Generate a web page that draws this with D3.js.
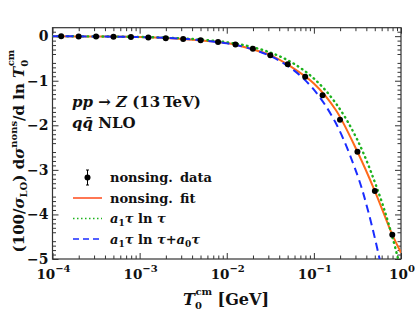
<!DOCTYPE html>
<html>
<head>
<meta charset="utf-8">
<script src="https://cdn.jsdelivr.net/npm/d3@7"></script>
<style>
  body { margin: 0; background: #fff; }
  svg { display: block; }
  text { font-family: "DejaVu Serif", serif; font-weight: bold; fill: #111; }
</style>
</head>
<body>
<div id="chart"></div>
<script>
// nonsingular data, log10 of T0cm and the value
const dataLog = [-3.9, -3.7, -3.5, -3.3, -3.1, -2.9, -2.7, -2.5, -2.3, -2.1,
                 -1.9, -1.7, -1.5, -1.3, -1.1, -0.9, -0.7, -0.5, -0.3, -0.1]
const dataVal = [-0.004, -0.006, -0.009, -0.013, -0.02, -0.03, -0.045, -0.066, -0.094, -0.13,
                 -0.186, -0.285, -0.426, -0.628, -0.912, -1.323, -1.876, -2.594, -3.475, -4.455]
const dataErr = [0.005, 0.005, 0.005, 0.005, 0.005, 0.005, 0.005, 0.005, 0.005, 0.005,
                 0.005, 0.005, 0.005, 0.005, 0.006, 0.006, 0.008, 0.01, 0.012, 0.015]

// fit curve
const fitLog = [-4, -3.5, -3, -2.5, -2, -1.75, -1.5, -1.25, -1, -0.75, -0.5, -0.3, -0.1, 0]
const fitVal = [-0.002, -0.008, -0.018, -0.066, -0.155, -0.27, -0.426, -0.7, -1.06, -1.65, -2.594, -3.475, -4.455, -4.86]

// a1 tau ln tau
const greenLog = [-4, -3.5, -3, -2.5, -2, -1.75, -1.5, -1.25, -1, -0.75, -0.5, -0.25, -0.1, 0]
const greenVal = [-0.002, -0.006, -0.018, -0.05, -0.137, -0.225, -0.367, -0.594, -0.95, -1.5, -2.33, -3.55, -4.5, -5.26]

// a1 tau ln tau + a0 tau
const blueLog = [-4, -3.5, -3, -2.5, -2, -1.75, -1.5, -1.25, -1, -0.75, -0.5, -0.375, -0.25, -0.2]
const blueVal = [-0.003, -0.007, -0.021, -0.058, -0.162, -0.269, -0.446, -0.735, -1.2, -1.945, -3.12, -3.94, -4.96, -5.43]

const xMajor = [-4, -3, -2, -1, 0]
const yMajor = [0, -1, -2, -3, -4, -5]

const width = 415
const height = 316
const pLeft = 52.5, pRight = 401, pTop = 27.7, pBottom = 259

const svg = d3.select("#chart").append("svg")
    .attr("width", width)
    .attr("height", height)

const x = d3.scaleLog().domain([1e-4, 1]).range([pLeft, pRight])
const y = d3.scaleLinear().domain([-5, 0.19]).range([pBottom, pTop])

const xMinor = []
xMajor.slice(0, -1).forEach(e => { for (let k = 2; k <= 9; k++) xMinor.push(k * Math.pow(10, e)) })
const xMajorV = xMajor.map(e => Math.pow(10, e))
const yMinor = d3.range(-49, 2).filter(v => v % 5 !== 0).map(v => v / 10).filter(v => v < 0.19)

function axisSet(axisFn, scale, values, size) {
    return axisFn(scale).tickValues(values).tickSize(-size).tickFormat("")
}
const axes = svg.append("g").attr("class", "axes")
function drawAxis(axisFn, tr, scale) {
    const isX = scale === x
    const maj = isX ? xMajorV : yMajor
    const min = isX ? xMinor : yMinor
    const g = axes.append("g").attr("transform", tr)
    g.append("g").call(axisSet(axisFn, scale, maj, 6))
    g.append("g").call(axisSet(axisFn, scale, min, 3.5))
    g.selectAll(".domain").remove()
    g.selectAll("line").attr("stroke", "#333").attr("stroke-width", 1)
}
drawAxis(d3.axisBottom, `translate(0,${pBottom})`, x)
drawAxis(d3.axisTop, `translate(0,${pTop})`, x)
drawAxis(d3.axisLeft, `translate(${pLeft},0)`, y)
drawAxis(d3.axisRight, `translate(${pRight},0)`, y)

svg.append("rect")
    .attr("x", pLeft).attr("y", pTop)
    .attr("width", pRight - pLeft).attr("height", pBottom - pTop)
    .attr("fill", "none").attr("stroke", "#333").attr("stroke-width", 1.2)

// tick labels
svg.append("g").selectAll("text")
    .data(yMajor)
    .enter().append("text")
    .attr("x", pLeft - 4)
    .attr("y", d => y(d) + 5)
    .attr("text-anchor", "end")
    .style("font-size", "14px")
    .text(d => d === 0 ? "0" : "\u2212" + Math.abs(d))

const xl = svg.append("g").selectAll("text")
    .data(xMajor)
    .enter().append("text")
    .attr("x", d => x(Math.pow(10, d)) + 1)
    .attr("y", 279)
    .attr("text-anchor", "middle")
    .style("font-size", "13.5px")
xl.append("tspan").text("10")
xl.append("tspan").attr("dy", -7).style("font-size", "10px")
    .text(d => d === 0 ? "0" : "\u2212" + Math.abs(d))

// clip
svg.append("clipPath").attr("id", "plotclip")
    .append("rect")
    .attr("x", pLeft).attr("y", pTop)
    .attr("width", pRight - pLeft).attr("height", pBottom - pTop)

const plot = svg.append("g").attr("clip-path", "url(#plotclip)")

const line = d3.line()
    .x(d => x(Math.pow(10, d[0])))
    .y(d => y(d[1]))
    .curve(d3.curveCatmullRom)

const zip = (a, b) => a.map((v, i) => [v, b[i]])

plot.append("path")
    .datum(zip(fitLog, fitVal))
    .attr("d", line)
    .attr("fill", "none")
    .attr("stroke", "#ff6a1a")
    .attr("stroke-width", 2)

plot.append("path")
    .datum(zip(greenLog, greenVal))
    .attr("d", line)
    .attr("fill", "none")
    .attr("stroke", "#1db31d")
    .attr("stroke-width", 2.4)
    .attr("stroke-linecap", "round")
    .attr("stroke-dasharray", "0.6,4.4")

plot.append("path")
    .datum(zip(blueLog, blueVal))
    .attr("d", line)
    .attr("fill", "none")
    .attr("stroke", "#1a2cff")
    .attr("stroke-width", 2)
    .attr("stroke-dasharray", "8,5")

const pts = plot.append("g").selectAll("g")
    .data(zip(dataLog, dataVal).map((d, i) => [d[0], d[1], dataErr[i]]))
    .enter().append("g")
pts.append("line")
    .attr("x1", d => x(Math.pow(10, d[0]))).attr("x2", d => x(Math.pow(10, d[0])))
    .attr("y1", d => y(d[1] + d[2])).attr("y2", d => y(d[1] - d[2]))
    .attr("stroke", "#000").attr("stroke-width", 1)
pts.append("circle")
    .attr("cx", d => x(Math.pow(10, d[0])))
    .attr("cy", d => y(d[1]))
    .attr("r", 3)
    .attr("fill", "#000")

// annotation
const ann1 = svg.append("text").attr("x", 72).attr("y", 107).style("font-size", "15px")
ann1.append("tspan").style("font-style", "italic").text("pp")
ann1.append("tspan").text(" \u2192 ")
ann1.append("tspan").style("font-style", "italic").text("Z")
ann1.append("tspan").text(" (13\u2009TeV)")
const ann2 = svg.append("text").attr("x", 72).attr("y", 128).style("font-size", "15px")
ann2.append("tspan").style("font-style", "italic").text("q")
ann2.append("tspan").style("font-style", "italic").text("q\u0304")
ann2.append("tspan").text(" NLO")

// legend
const legend = svg.append("g").attr("transform", "translate(0,0)")
const rows = [177.5, 198, 218.5, 239]
const lx1 = 73, lx2 = 102, tx = 110

legend.append("line").attr("x1", 87.5).attr("x2", 87.5)
    .attr("y1", rows[0] - 7.5).attr("y2", rows[0] + 7.5)
    .attr("stroke", "#000").attr("stroke-width", 1)
legend.append("line").attr("x1", 86).attr("x2", 89)
    .attr("y1", rows[0] - 7.5).attr("y2", rows[0] - 7.5).attr("stroke", "#000")
legend.append("line").attr("x1", 86).attr("x2", 89)
    .attr("y1", rows[0] + 7.5).attr("y2", rows[0] + 7.5).attr("stroke", "#000")
legend.append("circle").attr("cx", 87.5).attr("cy", rows[0]).attr("r", 3).attr("fill", "#000")

legend.append("line").attr("x1", lx1).attr("x2", lx2).attr("y1", rows[1]).attr("y2", rows[1])
    .attr("stroke", "#ff4a1a").attr("stroke-width", 1.5)
legend.append("line").attr("x1", lx1).attr("x2", lx2).attr("y1", rows[2]).attr("y2", rows[2])
    .attr("stroke", "#1db31d").attr("stroke-width", 1.5).attr("stroke-dasharray", "1.5,2.5")
legend.append("line").attr("x1", lx1).attr("x2", lx2).attr("y1", rows[3]).attr("y2", rows[3])
    .attr("stroke", "#1a2cff").attr("stroke-width", 1.5).attr("stroke-dasharray", "6,4")

function legText(i) {
    return legend.append("text").attr("x", tx).attr("y", rows[i] + 4.5).style("font-size", "13px")
}
legText(0).text("nonsing.\u2009 data")
legText(1).text("nonsing.\u2009 fit")
function tauLn(t, extra) {
    t.append("tspan").style("font-style", "italic").text("a")
    t.append("tspan").attr("dy", 3).style("font-size", "9px").text("1")
    t.append("tspan").attr("dy", -3).style("font-style", "italic").text("\u03c4")
    t.append("tspan").text(" ln ")
    t.append("tspan").style("font-style", "italic").text("\u03c4")
    if (extra) {
        t.append("tspan").text("+")
        t.append("tspan").style("font-style", "italic").text("a")
        t.append("tspan").attr("dy", 3).style("font-size", "9px").text("0")
        t.append("tspan").attr("dy", -3).style("font-style", "italic").text("\u03c4")
    }
}
tauLn(legText(2), false)
tauLn(legText(3), true)

// x axis title
const xt = svg.append("text").attr("x", 183).attr("y", 305).style("font-size", "16px")
xt.append("tspan").style("font-style", "italic").text("T")
xt.append("tspan").attr("dy", 4).style("font-size", "10px").text("0")
xt.append("tspan").attr("dx", -6.5).attr("dy", -14).style("font-size", "10px").text("cm")
xt.append("tspan").attr("dy", 10).text(" [GeV]")

// y axis title
const yt = svg.append("text")
    .attr("transform", "translate(24,151) rotate(-90)")
    .attr("text-anchor", "middle")
    .style("font-size", "15px")
yt.append("tspan").text("(100/")
yt.append("tspan").style("font-style", "italic").text("\u03c3")
yt.append("tspan").attr("dy", 3).style("font-size", "10px").text("LO")
yt.append("tspan").attr("dy", -3).text(") d")
yt.append("tspan").style("font-style", "italic").text("\u03c3")
yt.append("tspan").attr("dy", -7).style("font-size", "10px").text("nons")
yt.append("tspan").attr("dy", 7).text("/d ln ")
yt.append("tspan").style("font-style", "italic").text("T")
yt.append("tspan").attr("dy", 4).style("font-size", "10px").text("0")
yt.append("tspan").attr("dx", -6.5).attr("dy", -14).style("font-size", "10px").text("cm")
</script>
</body>
</html>
